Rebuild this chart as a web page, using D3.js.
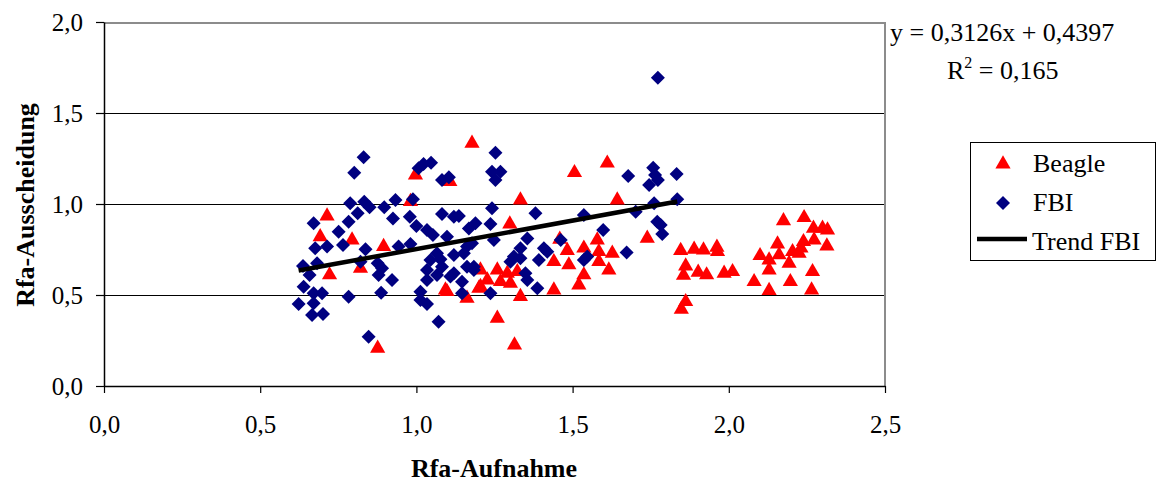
<!DOCTYPE html>
<html>
<head>
<meta charset="utf-8">
<script src="https://cdn.jsdelivr.net/npm/d3@7"></script>
<style>
  body { margin: 0; background: #fff; }
  svg { display: block; font-family: "Liberation Serif", "Times New Roman", serif; }
</style>
</head>
<body>
<svg id="chart"></svg>
<script>
// Beagle: [Rfa-Aufnahme, Rfa-Ausscheidung]
const beagle = [
  [1.611,1.224],[1.643,1.022],[1.739,0.811],[1.627,0.729],[1.616,0.637],[1.846,0.744],[1.889,0.751],
  [1.919,0.747],[1.962,0.762],[1.964,0.738],[1.862,0.659],[1.855,0.608],[1.902,0.625],[1.929,0.61],
  [1.985,0.619],[2.012,0.628],[1.862,0.463],[1.848,0.421],[2.175,0.908],[2.241,0.925],[2.271,0.866],
  [2.3,0.866],[2.316,0.857],[2.156,0.78],[2.239,0.793],[2.273,0.802],[2.314,0.769],[2.1,0.716],
  [2.129,0.692],[2.161,0.72],[2.204,0.738],[2.225,0.729],[2.193,0.674],[2.129,0.637],[2.268,0.628],
  [2.081,0.573],[2.197,0.573],[2.129,0.524],[2.265,0.527],[2.231,0.757],
  [1.178,1.333],[0.997,1.159],[1.107,1.123],[0.714,0.934],[0.692,0.82],[0.794,0.802],[0.981,1.013],
  [0.895,0.766],[0.722,0.61],[0.821,0.647],[0.876,0.207],[1.093,0.527],[1.162,0.482],[1.2,0.537],
  [1.506,1.172],[1.333,1.022],[1.299,0.89],[1.459,0.806],[1.579,0.802],[1.483,0.744],[1.536,0.757],
  [1.584,0.738],[1.44,0.683],[1.488,0.665],[1.584,0.683],[1.536,0.61],[1.52,0.555],[1.44,0.527],
  [1.333,0.491],[1.205,0.637],[1.259,0.637],[1.291,0.619],[1.323,0.628],[1.227,0.582],[1.269,0.573],
  [1.301,0.564],[1.205,0.546],[1.098,0.518],[1.259,0.372],[1.314,0.225]
];

const fbi = [
  [1.773,1.694],[1.758,1.199],[1.678,1.154],[1.833,1.165],[1.745,1.104],[1.773,1.132],[1.764,1.159],
  [1.835,1.026],[1.761,1.004],[1.702,0.958],[1.771,0.903],[1.782,0.885],[1.787,0.835],[1.598,0.857],
  [1.673,0.734],
  [0.831,1.257],[0.801,1.172],[1.023,1.22],[1.047,1.227],[1.007,1.196],[1.082,1.132],[1.104,1.147],
  [0.788,1.004],[0.812,0.949],[0.833,1.013],[0.85,0.982],[0.897,0.982],[0.933,1.022],[0.989,1.026],
  [0.925,0.921],[0.979,0.93],[1.0,0.879],[1.082,0.945],[1.12,0.93],[1.136,0.934],[1.168,0.866],
  [1.189,0.894],[0.671,0.894],[0.783,0.903],[0.751,0.848],[0.765,0.775],[0.676,0.757],[0.714,0.766],
  [0.837,0.751],[0.943,0.766],[0.981,0.78],[1.034,0.857],[1.053,0.83],[1.098,0.82],[1.066,0.729],
  [1.077,0.696],[1.12,0.72],[1.152,0.729],[1.162,0.766],[0.821,0.683],[0.876,0.674],[0.89,0.647],
  [0.682,0.674],[0.637,0.659],[0.658,0.61],[0.879,0.61],[0.922,0.582],[1.034,0.637],[1.066,0.61],
  [1.034,0.582],[1.12,0.619],[1.146,0.573],[1.184,0.637],[0.639,0.546],[0.783,0.491],[0.887,0.513],
  [0.671,0.509],[0.698,0.509],[0.623,0.451],[0.671,0.454],[1.013,0.473],[1.034,0.451],[1.146,0.509],
  [0.666,0.39],[0.701,0.396],[1.071,0.353],[0.847,0.271],[1.013,0.518],[1.045,0.692],[1.082,0.655],
  [1.162,0.655],[1.178,0.784],
  [1.253,1.282],[1.242,1.177],[1.269,1.177],[1.253,1.132],[1.242,0.976],[1.381,0.949],[1.536,0.94],
  [1.237,0.89],[1.248,0.802],[1.355,0.811],[1.333,0.757],[1.408,0.757],[1.419,0.738],[1.462,0.802],
  [1.392,0.692],[1.312,0.711],[1.333,0.702],[1.301,0.683],[1.536,0.692],[1.547,0.711],[1.349,0.619],
  [1.355,0.582],[1.387,0.537],[1.237,0.509],[1.184,0.655],[1.109,0.601]
];

// linear trend for FBI (as printed on the chart)
const trendSlope = 0.3126;
const trendIntercept = 0.4397;
const equationText = "y = 0,3126x + 0,4397";
const r2Text = "0,165";

const xTicks = [0, 0.5, 1.0, 1.5, 2.0, 2.5];
const yTicks = [0, 0.5, 1.0, 1.5, 2.0];
const legendLabels = ["Beagle", "FBI", "Trend FBI"];

const W = 1157, H = 483;
const margin = { top: 22, right: 272, bottom: 97, left: 104 };
const width = W - margin.left - margin.right;
const height = H - margin.top - margin.bottom;

const fmt = d => d3.format(".1f")(d).replace(".", ",");

const svg = d3.select("#chart").attr("width", W).attr("height", H);
svg.append("rect").attr("width", W).attr("height", H).attr("fill", "#fff");

const g = svg.append("g").attr("transform", `translate(${margin.left},${margin.top})`);

const x = d3.scaleLinear().domain([0, 2.5]).range([0, width]);
const y = d3.scaleLinear().domain([0, 2.0]).range([height, 0]);

// grid lines
g.append("g")
  .selectAll("line")
  .data(yTicks.filter(t => t > 0 && t < 2))
  .join("line")
  .attr("x1", 0).attr("x2", width)
  .attr("y1", d => Math.round(y(d)) + 0.5).attr("y2", d => Math.round(y(d)) + 0.5)
  .attr("stroke", "#000").attr("stroke-width", 1);

// frame (top/right grey)
g.append("path")
  .attr("d", `M0,1H${width}V${height}`)
  .attr("fill", "none").attr("stroke", "#8c8c8c").attr("stroke-width", 2);

// axes
const xAxis = g.append("g")
  .attr("transform", `translate(0,${height})`)
  .call(d3.axisBottom(x).tickValues(xTicks).tickFormat(fmt).tickSizeOuter(0).tickSizeInner(7).tickPadding(22));
const yAxis = g.append("g")
  .call(d3.axisLeft(y).tickValues(yTicks).tickFormat(fmt).tickSizeOuter(0).tickSizeInner(8).tickPadding(13));

[xAxis, yAxis].forEach(a => {
  a.select(".domain").attr("stroke", "#000").attr("stroke-width", 1.5);
  a.selectAll(".tick line").attr("stroke", "#000").attr("stroke-width", 1.2);
  a.selectAll("text")
    .attr("font-family", "Liberation Serif, Times New Roman, serif")
    .attr("font-size", 25).attr("fill", "#000");
});
xAxis.selectAll("text").attr("dy", "0.71em");

// markers
const tri = d3.symbol().type(d3.symbolTriangle).size(100);
const dia = d3.symbol().type(d3.symbolSquare).size(98);

g.append("g").selectAll("path")
  .data(beagle)
  .join("path")
  .attr("d", tri)
  .attr("transform", d => `translate(${x(d[0])},${y(d[1])})`)
  .attr("fill", "#ff0000");

g.append("g").selectAll("path")
  .data(fbi)
  .join("path")
  .attr("d", dia)
  .attr("transform", d => `translate(${x(d[0])},${y(d[1])}) rotate(45)`)
  .attr("fill", "#000080");

// trend line over the FBI x range
const [fx0, fx1] = d3.extent(fbi, d => d[0]);
g.append("line")
  .attr("x1", x(fx0)).attr("y1", y(trendSlope * fx0 + trendIntercept))
  .attr("x2", x(fx1)).attr("y2", y(trendSlope * fx1 + trendIntercept))
  .attr("stroke", "#000").attr("stroke-width", 4.5);

// axis titles
svg.append("text")
  .attr("x", 494).attr("y", 477)
  .attr("text-anchor", "middle")
  .attr("font-weight", "bold").attr("font-size", 26)
  .text("Rfa-Aufnahme");

svg.append("text")
  .attr("transform", "translate(34,205) rotate(-90)")
  .attr("text-anchor", "middle")
  .attr("font-weight", "bold").attr("font-size", 26)
  .text("Rfa-Ausscheidung");

// equation label
svg.append("text")
  .attr("x", 890).attr("y", 41)
  .attr("font-size", 26)
  .text(equationText);

const r2 = svg.append("text").attr("x", 947).attr("y", 79).attr("font-size", 26);
r2.append("tspan").text("R");
r2.append("tspan").attr("font-size", 16).attr("dy", -11).text("2");
r2.append("tspan").attr("dy", 11).text(" = " + r2Text);

// legend
const lg = svg.append("g").attr("transform", "translate(970,142)");
lg.append("rect")
  .attr("x", 0.5).attr("y", 0.5).attr("width", 185).attr("height", 118)
  .attr("fill", "#fff").attr("stroke", "#000").attr("stroke-width", 1);

lg.append("path").attr("d", tri).attr("transform", "translate(33,22)").attr("fill", "#ff0000");
lg.append("path").attr("d", dia).attr("transform", "translate(33,61) rotate(45)").attr("fill", "#000080");
lg.append("line").attr("x1", 7).attr("x2", 57).attr("y1", 97).attr("y2", 97)
  .attr("stroke", "#000").attr("stroke-width", 4.5);

lg.selectAll("text.lab")
  .data(legendLabels)
  .join("text")
  .attr("class", "lab")
  .attr("x", (d, i) => i === 2 ? 62 : 63)
  .attr("y", (d, i) => 30 + i * 39)
  .attr("font-size", 26)
  .text(d => d);
</script>
</body>
</html>
